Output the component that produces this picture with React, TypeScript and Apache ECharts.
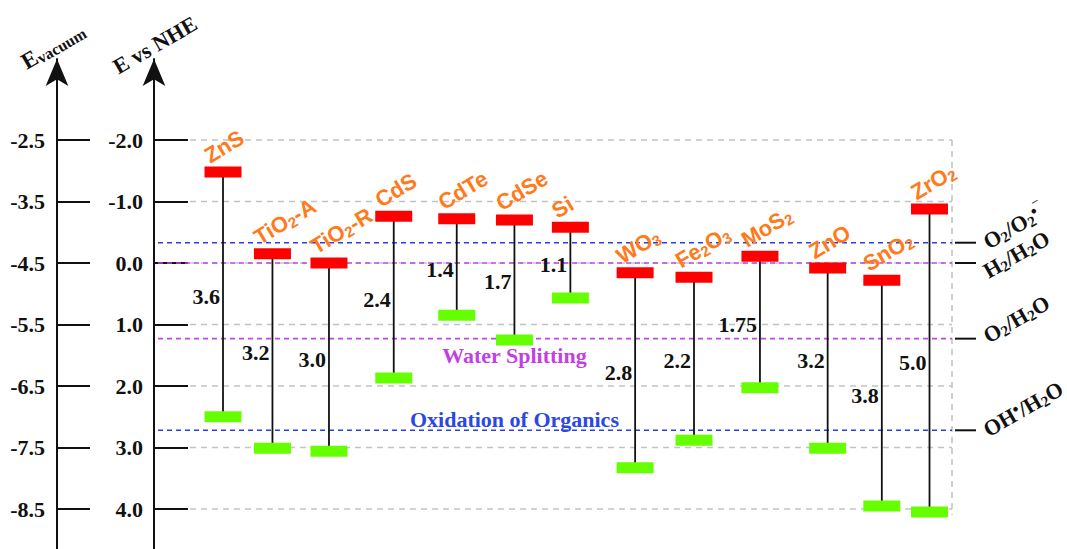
import React, { useEffect, useRef } from 'react';
import * as echarts from 'echarts';

// ---------- data ----------
const materials = ['ZnS', 'TiO2-A', 'TiO2-R', 'CdS', 'CdTe', 'CdSe', 'Si', 'WO3', 'Fe2O3', 'MoS2', 'ZnO', 'SnO2', 'ZrO2'];
const materialLabels = ['ZnS', 'TiO{s|2}-A', 'TiO{s|2}-R', 'CdS', 'CdTe', 'CdSe', 'Si', 'WO{s|3}', 'Fe{s|2}O{s|3}', 'MoS{s|2}', 'ZnO', 'SnO{s|2}', 'ZrO{s|2}'];
const slot = [0, 0.84, 1.8, 2.9, 3.97, 4.95, 5.9, 7.0, 8.0, 9.12, 10.27, 11.19, 12.0];
const conductionBand = [-1.48, -0.15, 0.0, -0.76, -0.72, -0.7, -0.58, 0.16, 0.23, -0.11, 0.08, 0.28, -0.88];
const valenceBand = [2.5, 3.01, 3.06, 1.87, 0.85, 1.25, 0.57, 3.33, 2.88, 2.03, 3.01, 3.95, 4.05];
const bandGapText = ['3.6', '3.2', '3.0', '2.4', '1.4', '1.7', '1.1', '2.8', '2.2', '1.75', '3.2', '3.8', '5.0'];
const nheTicks = [-2, -1, 0, 1, 2, 3, 4];
const vacuumTicks = [-2.5, -3.5, -4.5, -5.5, -6.5, -7.5, -8.5];
const redoxNames = ['O2/O2•-', 'H2/H2O', 'O2/H2O', 'OH•/H2O'];
const redoxLabels = ['O{s|2}/O{s|2}{p|•‾}', 'H{s|2}/H{s|2}O', 'O{s|2}/H{s|2}O', 'OH{p|•}/H{s|2}O'];
const redoxPotentials = [-0.33, 0.0, 1.23, 2.72];
const regionNames = ['', '', 'Water Splitting', 'Oxidation of Organics'];

// ---------- styling ----------
const SERIF = '"Liberation Serif", "Times New Roman", serif';
const SANS = '"Liberation Sans", Arial, sans-serif';
const DEG = Math.PI / 180;
const INK = '#111111';
const BLUE = '#2a40e6';
const PURPLE = '#c444e8';
const redoxColors = [BLUE, PURPLE, PURPLE, BLUE];
const redoxLabelDy = [11, 20, 9, 11];
const regionDy = [0, 0, 17, -11];
const regionColors = ['', '', '#c23fe6', '#2b47e6'];
const regionX = 4.95;

const NHE_MIN = -3.317;
const NHE_MAX = 4.65;

function buildOption(): any {
  const bandData = materials.map((m, i) => [slot[i], conductionBand[i], valenceBand[i], i]);
  const gridData = nheTicks.map((v) => [0, v]);
  const redoxData = redoxPotentials.map((v, i) => [0, v, i]);

  const subRichSans = {
    s: { fontSize: 15, lineHeight: 12, verticalAlign: 'bottom', fontFamily: SANS, fontWeight: 'bold', fill: '#ff7a1a' },
  };
  const serifRich = {
    s: { fontSize: 15, lineHeight: 12, verticalAlign: 'bottom', fontFamily: SERIF, fontWeight: 'bold', fill: INK },
    p: { fontSize: 17, lineHeight: 10, verticalAlign: 'top', fontFamily: SERIF, fontWeight: 'bold', fill: INK },
  };

  return {
    animation: false,
    backgroundColor: '#ffffff',
    grid: { left: 154, right: 115, top: 59, bottom: 0, containLabel: false },
    xAxis: { type: 'value', min: -1.172, max: 12.382, show: false },
    yAxis: [
      {
        type: 'value',
        inverse: true,
        min: NHE_MIN,
        max: NHE_MAX,
        position: 'left',
        offset: 0,
        axisLine: {
          show: true,
          onZero: false,
          lineStyle: { color: INK, width: 2 },
          symbol: ['none', 'arrow'],
          symbolSize: [17, 27],
        },
        axisTick: { show: true, inside: true, length: 34, lineStyle: { color: INK, width: 2 }, customValues: nheTicks },
        axisLabel: {
          customValues: nheTicks,
          formatter: (v: number) => v.toFixed(1),
          fontFamily: SERIF,
          fontWeight: 'bold',
          fontSize: 22,
          color: INK,
          margin: 11,
        },
        splitLine: { show: false },
      },
      {
        type: 'value',
        min: -4.5 - NHE_MAX,
        max: -4.5 - NHE_MIN,
        position: 'left',
        offset: 97,
        axisLine: {
          show: true,
          onZero: false,
          lineStyle: { color: INK, width: 2 },
          symbol: ['none', 'arrow'],
          symbolSize: [17, 27],
        },
        axisTick: { show: true, inside: true, length: 33, lineStyle: { color: INK, width: 2 }, customValues: vacuumTicks },
        axisLabel: {
          customValues: vacuumTicks,
          formatter: (v: number) => v.toFixed(1),
          fontFamily: SERIF,
          fontWeight: 'bold',
          fontSize: 22,
          color: INK,
          margin: 12,
        },
        splitLine: { show: false },
      },
    ],
    graphic: [
      {
        type: 'text',
        x: 155,
        y: 45,
        rotation: 30 * DEG,
        style: { text: 'E vs NHE', fill: INK, fontFamily: SERIF, fontWeight: 'bold', fontSize: 22, align: 'center', verticalAlign: 'middle' },
      },
      {
        type: 'text',
        x: 53,
        y: 46,
        rotation: 30 * DEG,
        style: {
          text: 'E{v|vacuum}',
          fill: INK,
          fontFamily: SERIF,
          fontWeight: 'bold',
          fontSize: 23,
          lineHeight: 24,
          align: 'center',
          verticalAlign: 'middle',
          rich: { v: { fontSize: 16, lineHeight: 14, verticalAlign: 'bottom', fontFamily: SERIF, fontWeight: 'bold', fill: INK } },
        },
      },
    ],
    series: [
      {
        type: 'custom',
        name: 'grid',
        z: 1,
        silent: true,
        data: gridData,
        encode: { x: 0, y: 1 },
        renderItem: (params: any, api: any) => {
          const cs = params.coordSys;
          const y = api.coord([0, api.value(1)])[1];
          const right = cs.x + cs.width;
          const children: any[] = [
            {
              type: 'line',
              shape: { x1: cs.x + 36, y1: y, x2: right, y2: y },
              style: { stroke: '#bcc6c6', lineWidth: 1.6, lineDash: [6, 5] },
            },
          ];
          if (params.dataIndex === 0) {
            const yTop = api.coord([0, nheTicks[0]])[1];
            const yBot = api.coord([0, nheTicks[nheTicks.length - 1]])[1] + 6;
            children.push({
              type: 'line',
              shape: { x1: right, y1: yTop, x2: right, y2: yBot },
              style: { stroke: '#bcc6c6', lineWidth: 1.6, lineDash: [6, 5] },
            });
          }
          return { type: 'group', children };
        },
      },
      {
        type: 'custom',
        name: 'redox',
        z: 2,
        silent: true,
        data: redoxData,
        encode: { x: 0, y: 1 },
        renderItem: (params: any, api: any) => {
          const cs = params.coordSys;
          const i = api.value(2);
          const y = api.coord([0, api.value(1)])[1];
          const right = cs.x + cs.width;
          const children: any[] = [
            {
              type: 'line',
              shape: { x1: cs.x + 4, y1: y, x2: right, y2: y },
              style: { stroke: redoxColors[i], lineWidth: 1.6, lineDash: [5, 4] },
            },
            {
              type: 'line',
              shape: { x1: right + 3, y1: y, x2: right + 24, y2: y },
              style: { stroke: INK, lineWidth: 2 },
            },
            {
              type: 'text',
              x: right + 39,
              y: y + redoxLabelDy[i],
              rotation: 30 * DEG,
              style: {
                text: redoxLabels[i],
                fill: INK,
                fontFamily: SERIF,
                fontWeight: 'bold',
                fontSize: 22,
                lineHeight: 24,
                align: 'left',
                verticalAlign: 'bottom',
                rich: serifRich,
              },
            },
          ];
          if (regionNames[i]) {
            const px = api.coord([regionX, api.value(1)])[0];
            children.push({
              type: 'text',
              x: px,
              y: y + regionDy[i],
              style: {
                text: regionNames[i],
                fill: regionColors[i],
                fontFamily: SERIF,
                fontWeight: 'bold',
                fontSize: 22,
                align: 'center',
                verticalAlign: 'middle',
              },
            });
          }
          return { type: 'group', children };
        },
      },
      {
        type: 'custom',
        name: 'bands',
        z: 3,
        silent: true,
        data: bandData,
        encode: { x: 0, y: [1, 2] },
        renderItem: (params: any, api: any) => {
          const i = api.value(3);
          const x = api.value(0);
          const pc = api.coord([x, api.value(1)]);
          const pv = api.coord([x, api.value(2)]);
          const W = 37;
          const H = 11;
          const left = pc[0] - W / 2;
          const top = pc[1] - H / 2;
          return {
            type: 'group',
            children: [
              {
                type: 'line',
                shape: { x1: pc[0], y1: pc[1], x2: pv[0], y2: pv[1] },
                style: { stroke: INK, lineWidth: 1.8 },
              },
              { type: 'rect', shape: { x: left, y: top, width: W, height: H }, style: { fill: '#ff0000' } },
              { type: 'rect', shape: { x: pv[0] - W / 2, y: pv[1] - H / 2, width: W, height: H }, style: { fill: '#66ff00' } },
              {
                type: 'text',
                x: pc[0] - 3,
                y: (pc[1] + pv[1]) / 2 + 2,
                style: {
                  text: bandGapText[i],
                  fill: INK,
                  fontFamily: SERIF,
                  fontWeight: 'bold',
                  fontSize: 22,
                  align: 'right',
                  verticalAlign: 'middle',
                },
              },
              {
                type: 'text',
                x: left + 8,
                y: top + 1,
                rotation: 31 * DEG,
                style: {
                  text: materialLabels[i],
                  fill: '#ff7a1a',
                  fontFamily: SANS,
                  fontWeight: 'bold',
                  fontSize: 22,
                  lineHeight: 24,
                  align: 'left',
                  verticalAlign: 'bottom',
                  rich: subRichSans,
                },
              },
            ],
          };
        },
      },
    ],
  };
}

export default function App() {
  const ref = useRef<HTMLDivElement>(null);
  useEffect(() => {
    if (!ref.current) return;
    const chart = echarts.init(ref.current, null, { renderer: 'svg' });
    chart.setOption(buildOption());
    return () => chart.dispose();
  }, []);
  return (
    <div
      ref={ref}
      style={{ position: 'absolute', left: 0, top: 0, width: 1067, height: 549, background: '#ffffff' }}
    />
  );
}
